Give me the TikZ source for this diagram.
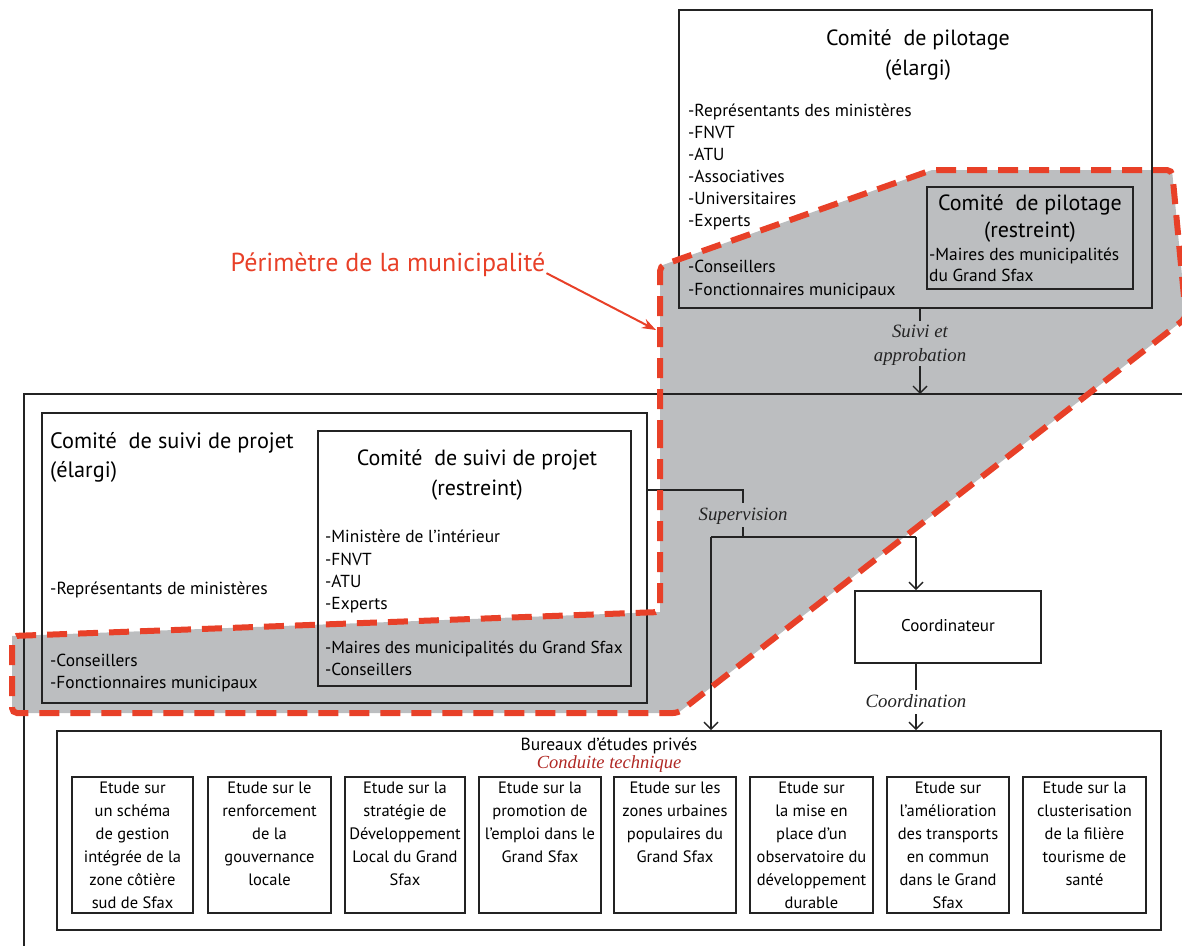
\documentclass[tikz,border=0pt]{standalone}
\usepackage{fontspec}
\setmainfont{PT Sans}
\newfontfamily\tms{Liberation Serif}
\usetikzlibrary{arrows.meta}
\newcommand\myfs[2]{\fontsize{#1}{#2}\selectfont}
\definecolor{munigray}{RGB}{188,190,192}
\definecolor{munired}{RGB}{232,64,40}
\definecolor{condred}{RGB}{176,40,36}
\definecolor{lineblk}{RGB}{35,35,35}
\begin{document}
\begin{tikzpicture}[x=1pt,y=-1pt,
  boxn/.style={draw=lineblk, line width=1.8pt, inner sep=0pt, rectangle},
  txt/.style={inner sep=0pt, anchor=north, align=center},
  ltxt/.style={inner sep=0pt, anchor=north west, align=left},
  conn/.style={draw=lineblk, line width=1.4pt},
  arr/.style={conn, -{Straight Barb[length=7pt,width=14pt,line width=1.4pt]}},
  lbl/.style={inner sep=0pt, font=\tms\itshape\myfs{18.8}{24}, text=lineblk, align=center}
]
\useasboundingbox (0,0) rectangle (1182,945);
% grey area of the municipality
\path[fill=munigray] (660,266) -- (932,170) -- (1172,170) -- (1186,318) -- (678,713) -- (12,713) -- (12,636) -- (660,612) -- cycle;
% big frame
\draw[line width=1.8pt, draw=lineblk] (1190,394) -- (24,394) -- (24,950);

% Comite de pilotage (elargi)
\node[boxn, minimum width=473pt, minimum height=298pt] (pilE) at (915.5,159) {};
\node[txt, font=\myfs{22}{30}] (pilEt) at (918,24) {\strut Comité\ \ de pilotage\\(élargi)};
\node[ltxt, font=\myfs{17.4}{22}] (pilEl) at (688,101) {\strut -Représentants des ministères\\-FNVT\\-ATU\\-Associatives\\-Universitaires\\-Experts};
\node[ltxt, font=\myfs{17.4}{23}] (pilEl2) at (688,256.4) {\strut -Conseillers\\-Fonctionnaires municipaux};
% Comite de pilotage (restreint)
\node[boxn, minimum width=206pt, minimum height=102pt] (pilR) at (1030,238) {};
\node[txt, font=\myfs{22}{27}] (pilRt) at (1030,191) {\strut Comité\ \ de pilotage\\(restreint)};
\node[ltxt, font=\myfs{17.4}{21}] (pilRl) at (929,245.8) {\strut -Maires des municipalités\\du Grand Sfax};

% Comite de suivi (elargi)
\node[boxn, minimum width=605pt, minimum height=290pt] (suiviE) at (344.5,558) {};
\node[ltxt, font=\myfs{22.3}{29}] (suiviEt) at (50,427.7) {\strut Comité\ \ de suivi de projet\\(élargi)};
\node[inner sep=0pt, anchor=base west, font=\myfs{17.5}{22}] (suiviEl) at (50,594.5) {-Représentants de ministères};
\node[ltxt, font=\myfs{17.4}{22}] (suiviEl2) at (50,651) {\strut -Conseillers\\-Fonctionnaires municipaux};
% Comite de suivi (restreint)
\node[boxn, minimum width=313pt, minimum height=255pt] (suiviR) at (474.5,558.5) {};
\node[txt, font=\myfs{22}{30}] (suiviRt) at (477,444) {\strut Comité\ \ de suivi de projet\\(restreint)};
\node[ltxt, font=\myfs{17.4}{22.3}] (suiviRl) at (325,527) {\strut -Ministère de l’intérieur\\-FNVT\\-ATU\\-Experts};
\node[ltxt, font=\myfs{17.3}{22}] (suiviRl2) at (325,638) {\strut -Maires des municipalités du Grand Sfax\\-Conseillers};

% Coordinateur
\node[boxn, fill=white, minimum width=186pt, minimum height=72pt, font=\myfs{17}{20}] (coord) at (948,627) {\raisebox{3pt}{Coordinateur}};

% Bureaux d'etudes
\node[boxn, minimum width=1104pt, minimum height=199pt] (bur) at (609,830.5) {};
\node[inner sep=0pt, anchor=base, font=\myfs{17.5}{20}] (burt) at (609,750.5) {Bureaux d’études privés};
\node[inner sep=0pt, anchor=base, font=\tms\itshape\myfs{18.5}{20}, text=condred] (burc) at (609,768) {Conduite technique};

% studies
\foreach \nm/\cx/\w/\t in {
  s1/132.5/121/{Etude sur\\un schéma\\de gestion\\intégrée de la\\zone côtière\\sud de Sfax},
  s2/269.5/123/{Etude sur le\\renforcement\\de la\\gouvernance\\locale},
  s3/405/120/{Etude sur la\\stratégie de\\Développement\\Local du Grand\\Sfax},
  s4/540/122/{Etude sur la\\promotion de\\l’emploi dans le\\Grand Sfax},
  s5/675/122/{Etude sur les\\zones urbaines\\populaires du\\Grand Sfax},
  s6/811.5/123/{Etude sur\\la mise en\\place d’un\\observatoire du\\développement\\durable},
  s7/948/122/{Etude sur\\l’amélioration\\des transports\\en commun\\dans le Grand\\Sfax},
  s8/1084.5/123/{Etude sur la\\clusterisation\\de la filière\\tourisme de\\santé}}{
  \node[boxn, line width=2.4pt, minimum width=\w pt, minimum height=136pt] (\nm) at (\cx,845) {};
  \node[txt, font=\myfs{16.5}{23}] (\nm t) at (\cx,777.2) {\strut\t};
}

% connectors
\node[lbl, anchor=north] (suivi) at (920,320.8) {\strut Suivi et\\approbation};
\coordinate (frameT) at (920,394);
\draw[conn] (pilE.south -| suivi.north) -- (suivi.north);
\draw[arr] (suivi.south) -- (frameT);

\coordinate (supA) at (743,490);
\node[lbl, anchor=north] (superv) at (743,503) {\strut Supervision};
\coordinate (busM) at (743,537);
\coordinate (busL) at (711,537);
\coordinate (busR) at (916,537);
\draw[conn] (suiviE.east |- supA) -- (supA) -- (superv.north);
\draw[conn] (superv.south) -- (busM);
\draw[conn] (busL) -- (busR);
\draw[arr] (busL) -- (busL |- bur.north);
\draw[arr] (busR) -- (busR |- coord.north);
\node[lbl, anchor=north] (coordl) at (916,690) {\strut Coordination};
\draw[conn] (busR |- coord.south) -- (coordl.north);
\draw[arr] (coordl.south) -- (busR |- bur.north);

% red perimeter border
\draw[munired, line width=6pt, dash pattern=on 20pt off 11pt, rounded corners=5pt]
  (660,440) -- (660,266) -- (932,170) -- (1172,170) -- (1186,318) -- (678,713) -- (12,713) -- (12,636) -- (660,612) -- (660,440);
\node[inner sep=0pt, text=munired, font=\myfs{26}{30}] (perim) at (388,265) {Périmètre de la municipalité};
\coordinate (perimT) at (656,330);
\draw[munired, line width=2pt, -{Stealth[length=14pt,width=10pt]}] (perim.south east) ++(1,-4) -- (perimT);
\end{tikzpicture}
\end{document}
